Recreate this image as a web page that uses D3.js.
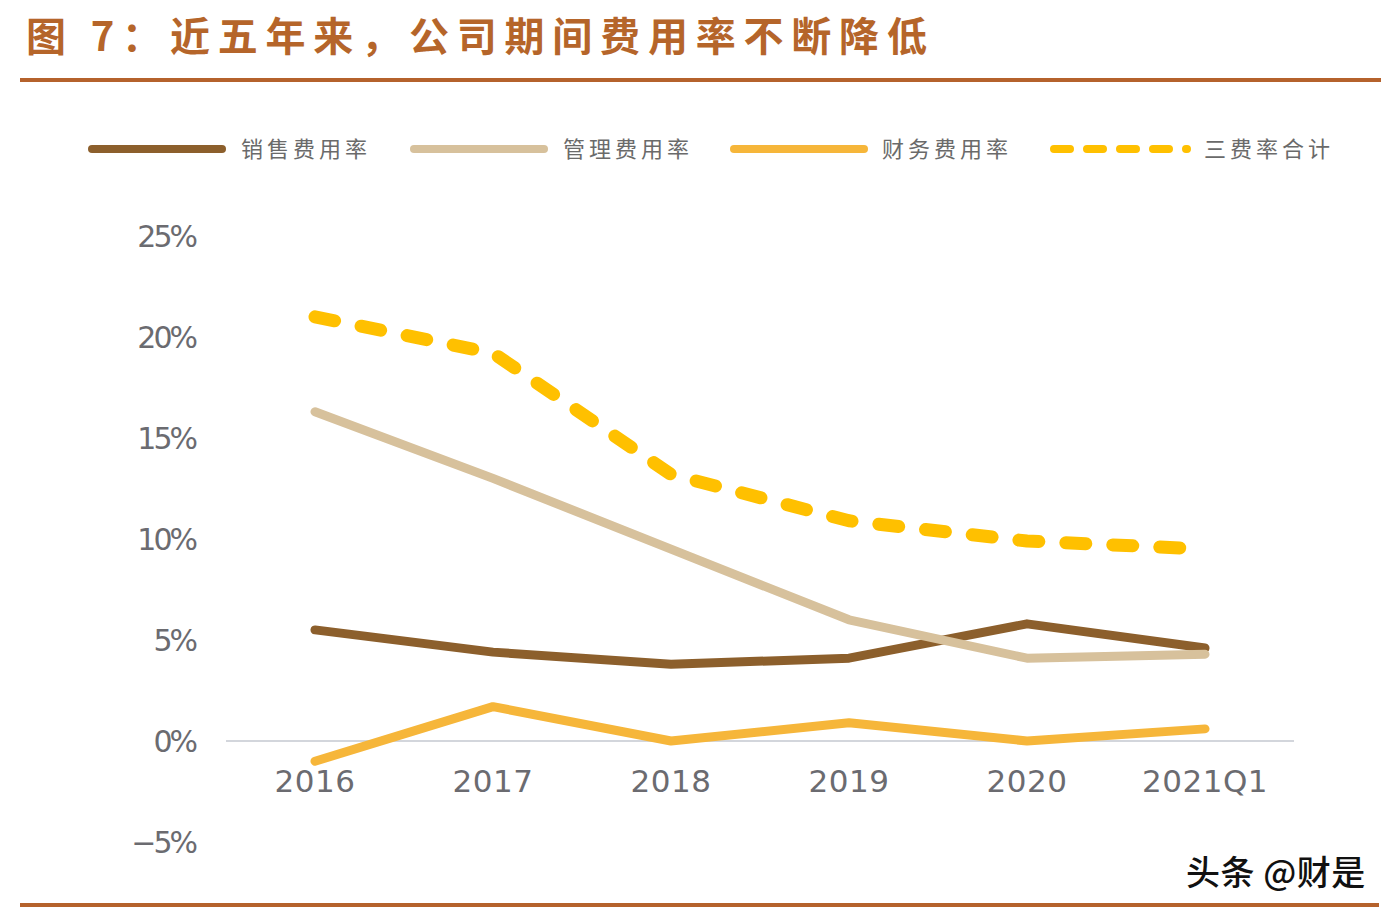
<!DOCTYPE html>
<html lang="zh">
<head>
  <meta charset="UTF-8">
  <title>图 7：近五年来，公司期间费用率不断降低</title>
  <script src="https://d3js.org/d3.v7.min.js"></script>
  <style>
    body { margin: 0; background: #fff; }
    svg { display: block; }
    .tick-label { fill: #6b6b70; font-family: "DejaVu Sans", sans-serif; }
    .legend-label { fill: #6a6a6a; font-family: "Noto Sans CJK SC", sans-serif; font-size: 22px; letter-spacing: 4px; }
  </style>
</head>
<body>
  <svg id="chart" width="1396" height="916"></svg>
  <script>
    // data (percent)
    const categories = ["2016", "2017", "2018", "2019", "2020", "2021Q1"];
    const sales   = [5.5, 4.4, 3.8, 4.1, 5.8, 4.6];    // 销售费用率
    const admin   = [16.3, 13.0, 9.5, 6.0, 4.1, 4.3];  // 管理费用率
    const finance = [-1.0, 1.7, 0.0, 0.9, 0.0, 0.6];   // 财务费用率
    const total   = [21.0, 19.2, 13.2, 10.9, 9.9, 9.5]; // 三费率合计
    const yTicks  = [-5, 0, 5, 10, 15, 20, 25];

    const series = [
      { name: "销售费用率", values: sales,   color: "#8c5f2c", width: 9,  dash: null },
      { name: "管理费用率", values: admin,   color: "#d7c19c", width: 9,  dash: null },
      { name: "财务费用率", values: finance, color: "#f6b63a", width: 9,  dash: null },
      { name: "三费率合计", values: total,   color: "#ffc000", width: 13, dash: "20 27" }
    ];

    const svg = d3.select("#chart");

    // title + rules
    svg.append("text")
      .attr("x", 26).attr("y", 51)
      .attr("fill", "#b5652a")
      .attr("font-family", "Noto Sans CJK SC, sans-serif")
      .attr("font-weight", "bold")
      .attr("font-size", 40)
      .attr("letter-spacing", 7.8)
      .text("图 7：近五年来，公司期间费用率不断降低");

    svg.append("rect").attr("x", 20).attr("y", 78).attr("width", 1361).attr("height", 4).attr("fill", "#b5622c");
    svg.append("rect").attr("x", 20).attr("y", 903).attr("width", 1359).attr("height", 4).attr("fill", "#b5622c");

    // scales
    const x = d3.scalePoint().domain(categories).range([226, 1294]).padding(0.5);
    const y = d3.scaleLinear().domain([-5, 25]).range([842, 236]);

    // zero line
    svg.append("line")
      .attr("x1", 226).attr("x2", 1294)
      .attr("y1", y(0)).attr("y2", y(0))
      .attr("stroke", "#d3d6dc").attr("stroke-width", 2);

    // y axis labels
    svg.selectAll(".ytick").data(yTicks).join("text")
      .attr("class", "tick-label ytick")
      .attr("x", 195).attr("y", d => y(d))
      .attr("dy", "0.36em")
      .attr("text-anchor", "end")
      .attr("font-size", 30)
      .attr("letter-spacing", -3)
      .text(d => (d < 0 ? "\u2212" + Math.abs(d) : d) + "%");

    // x axis labels
    svg.selectAll(".xtick").data(categories).join("text")
      .attr("class", "tick-label xtick")
      .attr("x", d => x(d)).attr("y", 792)
      .attr("text-anchor", "middle")
      .attr("font-size", 31)
      .attr("letter-spacing", 0.5)
      .text(d => d);

    // lines
    const line = d3.line()
      .x((d, i) => x(categories[i]))
      .y(d => y(d));

    series.forEach(s => {
      svg.append("path")
        .datum(s.values)
        .attr("fill", "none")
        .attr("stroke", s.color)
        .attr("stroke-width", s.width)
        .attr("stroke-linecap", "round")
        .attr("stroke-linejoin", "round")
        .attr("stroke-dasharray", s.dash)
        .attr("d", line);
    });

    // legend
    const legendX = [88, 410, 730, 1050];
    series.forEach((s, i) => {
      const g = svg.append("g").attr("transform", `translate(${legendX[i]},149)`);
      g.append("line")
        .attr("x1", 4).attr("x2", i === 3 ? 137 : 134)
        .attr("y1", 0).attr("y2", 0)
        .attr("stroke", s.color)
        .attr("stroke-width", 8)
        .attr("stroke-linecap", "round")
        .attr("stroke-dasharray", s.dash ? "16 17" : null);
      g.append("text")
        .attr("class", "legend-label")
        .attr("x", i === 3 ? 154 : i === 2 ? 152 : 153)
        .attr("y", 0).attr("dy", "0.36em")
        .text(s.name);
    });

    // watermark
    svg.append("text")
      .attr("x", 1186).attr("y", 885)
      .attr("fill", "#111")
      .attr("stroke", "#fff").attr("stroke-width", 2).attr("paint-order", "stroke")
      .attr("font-family", "Noto Sans CJK SC, sans-serif")
      .attr("font-weight", 500)
      .attr("font-size", 34)
      .attr("letter-spacing", 0.5)
      .text("头条 @财是");
  </script>
</body>
</html>
